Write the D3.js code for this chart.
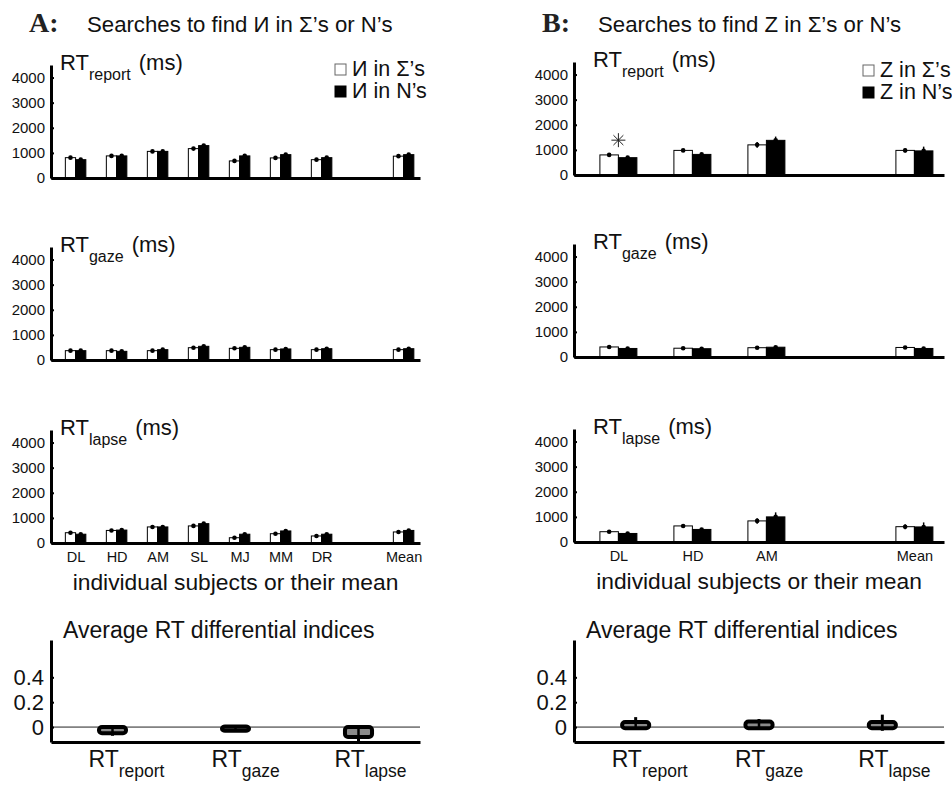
<!DOCTYPE html>
<html>
<head>
<meta charset="utf-8">
<script src="https://cdn.jsdelivr.net/npm/d3@7"></script>
<style>
  body { margin: 0; background: #fff; }
  svg { display: block; font-family: "Liberation Sans", Arial, sans-serif; }
</style>
</head>
<body>
<svg id="chart" width="952" height="786"></svg>
<script>
// subjects (Mean is drawn after a gap)
const subjectsA = ['DL', 'HD', 'AM', 'SL', 'MJ', 'MM', 'DR', 'Mean']
const subjectsB = ['DL', 'HD', 'AM', 'Mean']
const rtTicks = [0, 1000, 2000, 3000, 4000]
const rtMax = 4500

// panel A : mirrored N among sigmas (white) or among N's (black)
const reportA_sigma = [810, 880, 1060, 1170, 680, 800, 730, 870]
const reportA_n = [730, 880, 1060, 1290, 880, 930, 810, 930]
const reportA_sigmaErr = [30, 30, 30, 40, 30, 30, 30, 30]
const reportA_nErr = [20, 20, 20, 40, 30, 30, 20, 20]
const gazeA_sigma = [372, 372, 372, 490, 465, 412, 412, 412]
const gazeA_n = [372, 345, 412, 545, 505, 440, 450, 450]
const gazeA_sigmaErr = [20, 20, 20, 30, 30, 20, 20, 20]
const gazeA_nErr = [20, 20, 20, 30, 20, 20, 20, 20]
const lapseA_sigma = [410, 500, 640, 680, 210, 370, 280, 440]
const lapseA_n = [350, 515, 640, 770, 350, 480, 350, 500]
const lapseA_sigmaErr = [30, 30, 30, 40, 30, 30, 30, 30]
const lapseA_nErr = [20, 20, 20, 40, 20, 20, 20, 20]

// panel B : Z among sigmas (white) or among N's (black)
const reportB_sigma = [800, 980, 1200, 980]
const reportB_n = [690, 820, 1380, 960]
const reportB_sigmaErr = [30, 50, 110, 80]
const reportB_nErr = [30, 30, 150, 170]
const gazeB_sigma = [400, 350, 370, 380]
const gazeB_n = [340, 330, 390, 340]
const gazeB_sigmaErr = [40, 40, 40, 40]
const gazeB_nErr = [30, 30, 40, 40]
const lapseB_sigma = [410, 640, 840, 610]
const lapseB_n = [340, 500, 1000, 600]
const lapseB_sigmaErr = [40, 50, 110, 100]
const lapseB_nErr = [30, 30, 180, 180]

// differential indices (box plots)
const indexNames = ['report', 'gaze', 'lapse']
const diffTicks = [0, 0.2, 0.4]
const diffA_low = [-0.05, -0.03, -0.08]
const diffA_high = [0.0, 0.005, 0.0]
const diffA_whiskLow = [-0.07, -0.035, -0.12]
const diffA_whiskHigh = [0.0, 0.005, 0.0]
const diffB_low = [-0.01, -0.01, -0.01]
const diffB_high = [0.04, 0.045, 0.04]
const diffB_whiskLow = [-0.015, -0.01, -0.03]
const diffB_whiskHigh = [0.08, 0.065, 0.1]

const svg = d3.select('#chart')
const font = '"Liberation Sans", Arial, sans-serif'

// panel layout
const panels = [
    {
        letter: 'A:', title: 'Searches to find \u0418 in \u03A3\u2019s or N\u2019s',
        letterX: 29, titleX: 87, x0: 51, x1: 420, labelDx: 9,
        bases: [178, 360, 543], subjects: subjectsA,
        legend: ['\u0418 in \u03A3\u2019s', '\u0418 in N\u2019s'], legendX: 335, legendY: 76,
        rows: [
            [reportA_sigma, reportA_n, reportA_sigmaErr, reportA_nErr],
            [gazeA_sigma, gazeA_n, gazeA_sigmaErr, gazeA_nErr],
            [lapseA_sigma, lapseA_n, lapseA_sigmaErr, lapseA_nErr]
        ],
        diff: [diffA_low, diffA_high, diffA_whiskLow, diffA_whiskHigh]
    },
    {
        letter: 'B:', title: 'Searches to find Z in \u03A3\u2019s or N\u2019s',
        letterX: 542, titleX: 598, x0: 574, x1: 944, labelDx: 19,
        bases: [175, 357, 542], subjects: subjectsB,
        legend: ['Z in \u03A3\u2019s', 'Z in N\u2019s'], legendX: 863, legendY: 77,
        rows: [
            [reportB_sigma, reportB_n, reportB_sigmaErr, reportB_nErr],
            [gazeB_sigma, gazeB_n, gazeB_sigmaErr, gazeB_nErr],
            [lapseB_sigma, lapseB_n, lapseB_sigmaErr, lapseB_nErr]
        ],
        diff: [diffB_low, diffB_high, diffB_whiskLow, diffB_whiskHigh]
    }
]

function rtLabel(g, x, y, sub, withUnit, size, subSize) {
    let t = g.append('text').attr('x', x).attr('y', y)
        .attr('font-family', font).attr('font-size', size).attr('fill', '#111')
    t.append('tspan').text('RT')
    t.append('tspan').attr('dy', 10).attr('font-size', subSize).text(sub)
    if (withUnit) {
        t.append('tspan').attr('dy', -10).attr('dx', 8).text('(ms)')
    }
    return t
}

function styleAxis(ax, size) {
    ax.select('.domain').attr('stroke-width', 3).attr('stroke', '#000')
    ax.selectAll('.tick line').attr('stroke', '#000').attr('stroke-width', 2)
    ax.selectAll('.tick text').attr('font-family', font).attr('font-size', size).attr('fill', '#111')
    ax.attr('font-family', null).attr('font-size', null)
}

function drawBarRow(p, r) {
    let base = p.bases[r]
    let [sigma, nVals, sigmaErr, nErr] = p.rows[r]
    let nSlots = p.subjects.length + 1
    let slot = (i) => i < p.subjects.length - 1 ? i + 1 : i + 2

    let x = d3.scaleLinear().domain([0.4, nSlots + 0.4]).range([p.x0, p.x1])
    let y = d3.scaleLinear().domain([0, rtMax]).range([base, base - 113])
    let bw = 0.25

    let g = svg.append('g')

    let bars = p.subjects.map((s, i) => [
        { v: sigma[i], e: sigmaErr[i], c: slot(i) - bw / 2, fill: '#fff' },
        { v: nVals[i], e: nErr[i], c: slot(i) + bw / 2, fill: '#000' }
    ]).flat()

    g.selectAll('rect.bar')
        .data(bars)
        .enter()
        .append('rect')
        .attr('class', 'bar')
        .attr('x', d => x(d.c - bw / 2))
        .attr('width', d => x(d.c + bw / 2) - x(d.c - bw / 2))
        .attr('y', d => y(d.v))
        .attr('height', d => y(0) - y(d.v))
        .attr('fill', d => d.fill)
        .attr('stroke', '#000')
        .attr('stroke-width', 1)

    g.selectAll('line.err')
        .data(bars)
        .enter()
        .append('line')
        .attr('x1', d => x(d.c)).attr('x2', d => x(d.c))
        .attr('y1', d => y(d.v - d.e)).attr('y2', d => y(d.v + d.e))
        .attr('stroke', '#000').attr('stroke-width', 1.5)

    g.selectAll('circle.err')
        .data(bars)
        .enter()
        .append('circle')
        .attr('cx', d => x(d.c)).attr('cy', d => y(d.v))
        .attr('r', 2.3).attr('fill', '#000')

    let yAxis = g.append('g')
        .attr('transform', `translate(${p.x0},0)`)
        .call(d3.axisLeft(y).tickValues(rtTicks).tickFormat(d3.format('d'))
            .tickSizeInner(-3).tickSizeOuter(0).tickPadding(6))
    styleAxis(yAxis, 15)

    let xAxis = g.append('g')
        .attr('transform', `translate(0,${base})`)
        .call(d3.axisBottom(x).tickValues(p.subjects.map((s, i) => slot(i)))
            .tickFormat((d, i) => r === 2 ? p.subjects[i] : '')
            .tickSize(0).tickPadding(9))
    styleAxis(xAxis, 14.5)

    rtLabel(g, p.x0 + p.labelDx, base - 108, ['report', 'gaze', 'lapse'][r], true, 22, 16)

    if (r === 2) {
        g.append('text')
            .attr('x', (p.x0 + p.x1) / 2).attr('y', base + 47)
            .attr('text-anchor', 'middle')
            .attr('font-family', font).attr('font-size', 22.8).attr('fill', '#111')
            .text('individual subjects or their mean')
    }

    // significance star above first subject of panel B report
    if (p.letter === 'B:' && r === 0) {
        let cx = x(slot(0)), cy = y(sigma[0] + sigmaErr[0]) - 14, rad = 7
        d3.range(4).forEach(k => {
            let a = k * Math.PI / 4
            g.append('line')
                .attr('x1', cx - rad * Math.cos(a)).attr('y1', cy - rad * Math.sin(a))
                .attr('x2', cx + rad * Math.cos(a)).attr('y2', cy + rad * Math.sin(a))
                .attr('stroke', '#222').attr('stroke-width', 1)
        })
    }
}

function drawDiff(p) {
    let [low, high, wLow, wHigh] = p.diff
    let x = d3.scaleLinear().domain([0.5, 3.5]).range([p.x0, p.x1])
    let y = d3.scaleLinear().domain([-0.12, 0.7]).range([742, 640])
    let bw = 0.22
    let g = svg.append('g')

    g.append('line')
        .attr('x1', p.x0).attr('x2', p.x1)
        .attr('y1', y(0)).attr('y2', y(0))
        .attr('stroke', '#222').attr('stroke-width', 1)

    let boxes = indexNames.map((n, i) => ({ c: i + 1, lo: low[i], hi: high[i], wl: wLow[i], wh: wHigh[i] }))

    g.selectAll('line.whisk')
        .data(boxes)
        .enter()
        .append('line')
        .attr('x1', d => x(d.c)).attr('x2', d => x(d.c))
        .attr('y1', d => y(d.wl)).attr('y2', d => y(d.wh))
        .attr('stroke', '#000').attr('stroke-width', 3)

    g.selectAll('rect.box')
        .data(boxes)
        .enter()
        .append('rect')
        .attr('x', d => x(d.c - bw / 2))
        .attr('width', d => x(d.c + bw / 2) - x(d.c - bw / 2))
        .attr('y', d => y(d.hi))
        .attr('height', d => Math.max(1, y(d.lo) - y(d.hi)))
        .attr('rx', 3)
        .attr('fill', '#8a8a8a')
        .attr('stroke', '#000')
        .attr('stroke-width', 4)

    g.selectAll('line.mid')
        .data(boxes)
        .enter()
        .append('line')
        .attr('x1', d => x(d.c)).attr('x2', d => x(d.c))
        .attr('y1', d => y(d.hi)).attr('y2', d => y(d.lo))
        .attr('stroke', '#000').attr('stroke-width', 2.5)

    let yAxis = g.append('g')
        .attr('transform', `translate(${p.x0},0)`)
        .call(d3.axisLeft(y).tickValues(diffTicks).tickFormat(d => d === 0 ? '0' : d3.format('.1f')(d))
            .tickSizeInner(-3).tickSizeOuter(0).tickPadding(7))
    styleAxis(yAxis, 22)

    let xAxis = g.append('g')
        .attr('transform', 'translate(0,742)')
        .call(d3.axisBottom(x).tickValues([]).tickSizeOuter(0))
    styleAxis(xAxis, 14)

    g.append('text')
        .attr('x', p.x0 + 12).attr('y', 638)
        .attr('font-family', font).attr('font-size', 23).attr('fill', '#111')
        .text('Average RT differential indices')

    indexNames.forEach((n, i) => {
        rtLabel(g, x(i + 1) - 24, 767, n, false, 23, 17.5)
    })
}

panels.forEach(p => {
    svg.append('text')
        .attr('x', p.letterX).attr('y', 32)
        .attr('font-family', '"Liberation Serif", "Times New Roman", serif')
        .attr('font-weight', 'bold').attr('font-size', 28).attr('fill', '#222')
        .text(p.letter)
    svg.append('text')
        .attr('x', p.titleX).attr('y', 32)
        .attr('font-family', font).attr('font-size', 22.2).attr('fill', '#111')
        .text(p.title)

    p.bases.forEach((b, r) => drawBarRow(p, r))
    drawDiff(p)

    // legend
    let lg = svg.append('g')
    p.legend.forEach((txt, k) => {
        let ly = p.legendY + k * 22
        lg.append('rect')
            .attr('x', p.legendX).attr('y', ly - 12)
            .attr('width', 11).attr('height', 11)
            .attr('fill', k === 0 ? '#fff' : '#000')
            .attr('stroke', k === 0 ? '#666' : '#000').attr('stroke-width', 1)
        lg.append('text')
            .attr('x', p.legendX + 17).attr('y', ly)
            .attr('font-family', font).attr('font-size', 21.5).attr('fill', '#111')
            .text(txt)
    })
})
</script>
</body>
</html>
